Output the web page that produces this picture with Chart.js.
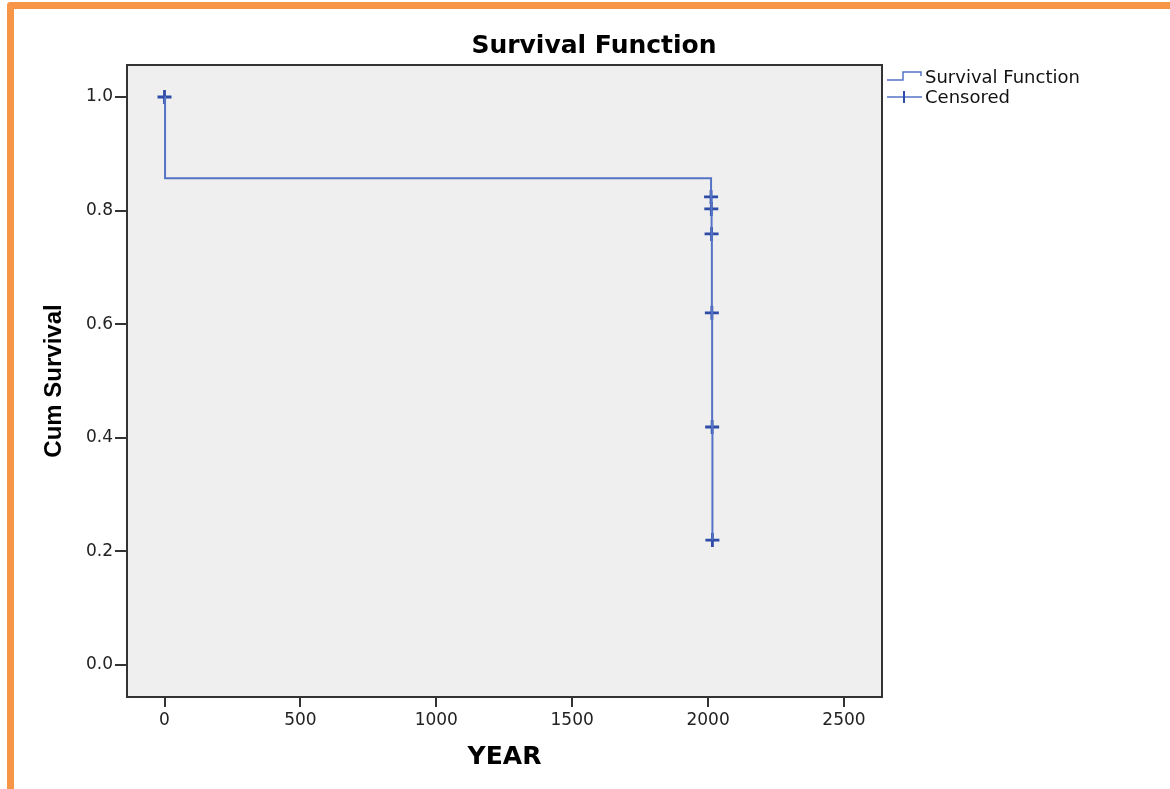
<!DOCTYPE html>
<html>
<head>
<meta charset="utf-8">
<script src="https://cdn.jsdelivr.net/npm/chart.js@4.4.0/dist/chart.umd.min.js"></script>
<style>
  body { margin: 0; background: #fff; }
  #wrap { position: relative; width: 1170px; height: 789px; overflow: hidden; }
  #frame {
    position: absolute; left: 7px; top: 2px; width: 1200px; height: 820px;
    border-top: 7px solid #f79646; border-left: 7px solid #f79646;
    border-top-left-radius: 4px; box-sizing: border-box;
  }
  canvas { position: absolute; left: 0; top: 0; }
</style>
</head>
<body>
<div id="wrap">
  <div id="frame"></div>
  <canvas id="myChart" width="1170" height="789"></canvas>
</div>
<script>
// Kaplan-Meier steps (time, cumulative survival)
var survTimes = [0, 2, 2011, 2012, 2013, 2014, 2015, 2016];
var survValues = [1.0, 0.857, 0.824, 0.803, 0.759, 0.620, 0.419, 0.220];
// censored cases
var censTimes = [0, 2011, 2012, 2013, 2014, 2015, 2016];
var censValues = [1.0, 0.824, 0.803, 0.759, 0.620, 0.419, 0.220];

var xTicks = [0, 500, 1000, 1500, 2000, 2500];
var yTicks = [0.0, 0.2, 0.4, 0.6, 0.8, 1.0];

var lineColor = '#5573c6';
var crossColor = '#2f4ba8';

function toPoints(xs, ys) {
    var pts = [];
    for (var i = 0; i < xs.length; i++) {
        pts.push({ x: xs[i], y: ys[i] });
    }
    return pts;
}

// grey plot background, frame, title and legend
var decor = {
    id: 'decor',
    beforeDraw: function (chart) {
        var a = chart.chartArea, ctx = chart.ctx;
        ctx.save();
        ctx.fillStyle = '#efefef';
        ctx.fillRect(a.left, a.top, a.right - a.left, a.bottom - a.top);
        ctx.restore();
    },
    afterDraw: function (chart) {
        var a = chart.chartArea, ctx = chart.ctx;
        ctx.save();
        ctx.strokeStyle = '#333';
        ctx.lineWidth = 2;
        ctx.strokeRect(a.left, a.top, a.right - a.left, a.bottom - a.top);

        ctx.fillStyle = '#000';
        ctx.font = 'bold 25px "DejaVu Sans"';
        ctx.textAlign = 'center';
        ctx.textBaseline = 'alphabetic';
        ctx.fillText('Survival Function', 594, 53);

        // legend
        ctx.strokeStyle = lineColor;
        ctx.lineWidth = 1.5;
        ctx.beginPath();
        ctx.moveTo(887, 80);
        ctx.lineTo(903, 80);
        ctx.lineTo(903, 72);
        ctx.lineTo(921, 72);
        ctx.lineTo(921, 76);
        ctx.stroke();
        ctx.beginPath();
        ctx.moveTo(887, 97);
        ctx.lineTo(922, 97);
        ctx.stroke();
        ctx.strokeStyle = crossColor;
        ctx.lineWidth = 2;
        ctx.beginPath();
        ctx.moveTo(904, 91);
        ctx.lineTo(904, 103);
        ctx.stroke();

        ctx.fillStyle = '#111';
        ctx.font = '18px "DejaVu Sans"';
        ctx.textAlign = 'left';
        ctx.fillText('Survival Function', 925, 83);
        ctx.fillText('Censored', 925, 103);
        ctx.restore();
    }
};

var ctx = document.getElementById('myChart');
var myChart = new Chart(ctx, {
    type: 'scatter',
    data: {
        datasets: [
            {
                label: 'Survival Function',
                data: toPoints(survTimes, survValues),
                showLine: true,
                stepped: 'before',
                borderColor: lineColor,
                borderWidth: 2,
                pointRadius: 0,
                fill: false
            },
            {
                label: 'Censored',
                data: toPoints(censTimes, censValues),
                showLine: false,
                pointStyle: 'cross',
                pointRadius: 7,
                pointBorderWidth: 2.8,
                borderColor: crossColor,
                backgroundColor: crossColor
            }
        ]
    },
    options: {
        responsive: false,
        animation: false,
        layout: { padding: { top: 65, right: 288, left: 0, bottom: 0 } },
        plugins: {
            legend: { display: false },
            title: { display: false },
            tooltip: { enabled: false }
        },
        scales: {
            x: {
                type: 'linear',
                min: -138,
                max: 2640,
                afterBuildTicks: function (s) { s.ticks = xTicks.map(function (v) { return { value: v }; }); },
                afterFit: function (s) { s.height = 92; },
                border: { display: false },
                grid: { drawOnChartArea: false, drawTicks: true, tickLength: 10, color: '#333', lineWidth: 2 },
                ticks: {
                    color: '#222', padding: 3, font: { family: 'DejaVu Sans', size: 17 },
                    callback: function (v) { return String(v); }
                },
                title: {
                    display: true, text: 'YEAR', color: '#000',
                    font: { family: 'DejaVu Sans', size: 25, weight: 'bold' },
                    padding: { top: 0, bottom: 17 }
                }
            },
            y: {
                min: -0.0563,
                max: 1.0563,
                afterBuildTicks: function (s) { s.ticks = yTicks.map(function (v) { return { value: v }; }); },
                afterFit: function (s) { s.width = 127; },
                border: { display: false },
                grid: { drawOnChartArea: false, drawTicks: true, tickLength: 12, color: '#333', lineWidth: 2 },
                ticks: {
                    color: '#222', padding: 2, font: { family: 'DejaVu Sans', size: 17 },
                    callback: function (v) { return Number(v).toFixed(1); }
                },
                title: {
                    display: true, text: 'Cum Survival', color: '#000',
                    font: { family: 'Liberation Sans', size: 24, weight: 'bold' },
                    padding: { top: 40, bottom: 0 }
                }
            }
        }
    },
    plugins: [decor]
});
</script>
</body>
</html>
